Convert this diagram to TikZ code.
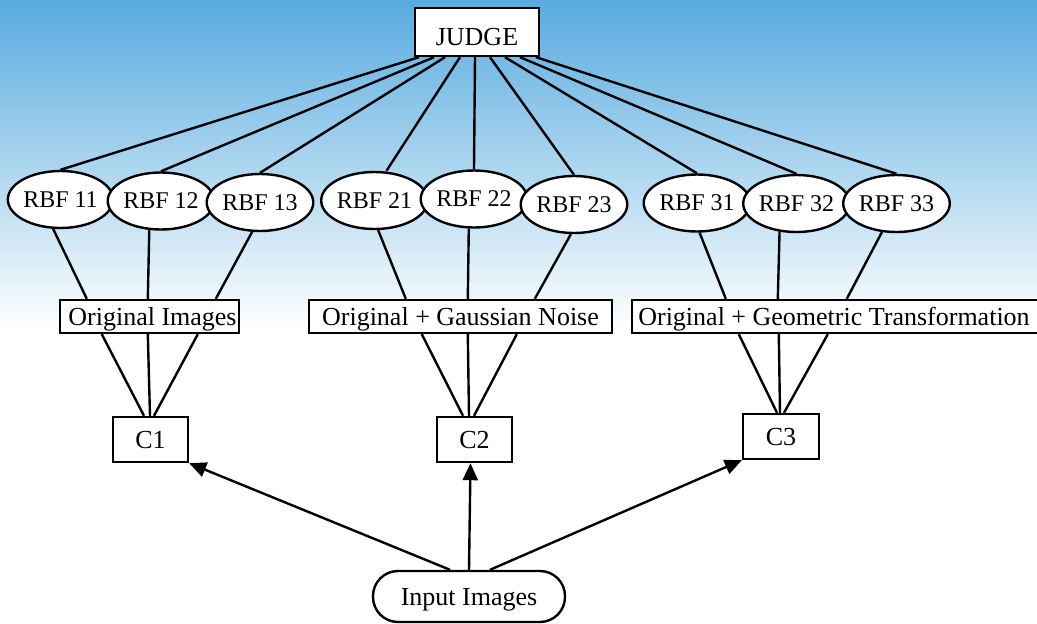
\documentclass[tikz,border=0pt]{standalone}
\usepackage{fontspec}
\setmainfont{Liberation Serif}
\usetikzlibrary{calc,arrows.meta,shapes.geometric}
\definecolor{skyblue}{RGB}{88,171,223}
\begin{document}
\begin{tikzpicture}[x=1pt,y=-1pt,
  conn/.style={line width=2.4pt},
  arr/.style={line width=2.4pt,-{Triangle[length=17pt,width=15pt]}},
  boxnode/.style={draw,fill=white,line width=2.4pt,inner sep=0pt,text depth=0pt,font=\fontsize{26}{28}\selectfont},
  rbf/.style={ellipse,draw,fill=white,line width=2.4pt,inner sep=0pt,minimum width=97pt,minimum height=57pt,font=\fontsize{24}{26}\selectfont}]
\useasboundingbox (0,0) rectangle (1037,624);
\fill[white] (0,0) rectangle (1037,624);
\shade[top color=skyblue,bottom color=white] (0,0) rectangle (1037,330);

% nodes
\node[boxnode,minimum width=124pt,minimum height=48pt,text height=26pt] (judge) at (477,32) {JUDGE};
\node[rbf] (r11) at (60.5,199.5) {RBF 11};
\node[rbf] (r12) at (161,201) {RBF 12};
\node[rbf] (r13) at (260,202.5) {RBF 13};
\node[rbf] (r21) at (374.5,200.5) {RBF 21};
\node[rbf] (r22) at (474,199) {RBF 22};
\node[rbf] (r23) at (574,204.5) {RBF 23};
\node[rbf] (r31) at (697,203) {RBF 31};
\node[rbf] (r32) at (796.5,203.5) {RBF 32};
\node[rbf] (r33) at (896.5,203.5) {RBF 33};

\node[boxnode,minimum width=179pt,minimum height=33pt] (o1) at (149.5,316.5) {\hspace*{6pt}Original Images};
\node[boxnode,minimum width=303pt,minimum height=33pt] (o2) at (460.5,316.5) {Original + Gaussian Noise};
\node[boxnode,minimum width=408pt,minimum height=33pt] (o3) at (836,316.5) {\hspace*{-4pt}Original + Geometric Transformation};

\node[boxnode,minimum width=75pt,minimum height=45pt] (c1) at (150.5,439.5) {C1};
\node[boxnode,minimum width=75pt,minimum height=45pt] (c2) at (474.5,439.5) {C2};
\node[boxnode,minimum width=76pt,minimum height=45pt] (c3) at (781,436.5) {C3};

\node[boxnode,rounded corners=25pt,minimum width=192pt,minimum height=51pt] (inp) at (469,596.5) {Input Images};

% judge edges
\draw[conn] ($(judge.south)+(-58,0)$) -- (r11.north);
\draw[conn] ($(judge.south)+(-43,0)$) -- (r12.north);
\draw[conn] ($(judge.south)+(-32,0)$) -- (r13.north);
\draw[conn] ($(judge.south)+(-17,0)$) -- ($(r21.north)+(12,0)$);
\draw[conn] ($(judge.south)+(-2,0)$) -- (r22.north);
\draw[conn] ($(judge.south)+(13,0)$) -- (r23.north);
\draw[conn] ($(judge.south)+(28,0)$) -- (r31.north);
\draw[conn] ($(judge.south)+(43,0)$) -- (r32.north);
\draw[conn] ($(judge.south)+(59,0)$) -- (r33.north);

% RBF to boxes
\draw[conn] (r11.256) -- ($(o1.north west)+(28,0)$);
\draw[conn] (r12.248) -- ($(o1.north west)+(89,0)$);
\draw[conn] (r13.255) -- ($(o1.north west)+(157,0)$);
\draw[conn] (r21.277) -- ($(o2.north west)+(98,0)$);
\draw[conn] (r22.260) -- ($(o2.north west)+(160,0)$);
\draw[conn] (r23.264) -- ($(o2.north west)+(227,0)$);
\draw[conn] (r31.275) -- ($(o3.north west)+(95,0)$);
\draw[conn] (r32.239) -- ($(o3.north west)+(147,0)$);
\draw[conn] (r33.243) -- ($(o3.north west)+(216,0)$);

% boxes to C
\draw[conn] ($(o1.south west)+(43,0)$) -- ($(c1.north)+(-6.5,0)$);
\draw[conn] ($(o1.south west)+(89,0)$) -- ($(c1.north)+(-0.5,0)$);
\draw[conn] ($(o1.south west)+(139,0)$) -- ($(c1.north)+(3.5,0)$);
\draw[conn] ($(o2.south west)+(114,0)$) -- ($(c2.north)+(-11.5,0)$);
\draw[conn] ($(o2.south west)+(160,0)$) -- ($(c2.north)+(-5.5,0)$);
\draw[conn] ($(o2.south west)+(209,0)$) -- ($(c2.north)+(-0.5,0)$);
\draw[conn] ($(o3.south west)+(108,0)$) -- ($(c3.north)+(-4,0)$);
\draw[conn] ($(o3.south west)+(148,0)$) -- ($(c3.north)+(-1,0)$);
\draw[conn] ($(o3.south west)+(197,0)$) -- ($(c3.north)+(3,0)$);

% input arrows
\draw[arr] ($(inp.north)+(-19,0)$) -- (c1.south east);
\draw[arr] ($(inp.north)+(0,0)$) -- ($(c2.south)+(-4,0)$);
\draw[arr] ($(inp.north)+(21,0)$) -- (c3.south west);
\end{tikzpicture}
\end{document}
